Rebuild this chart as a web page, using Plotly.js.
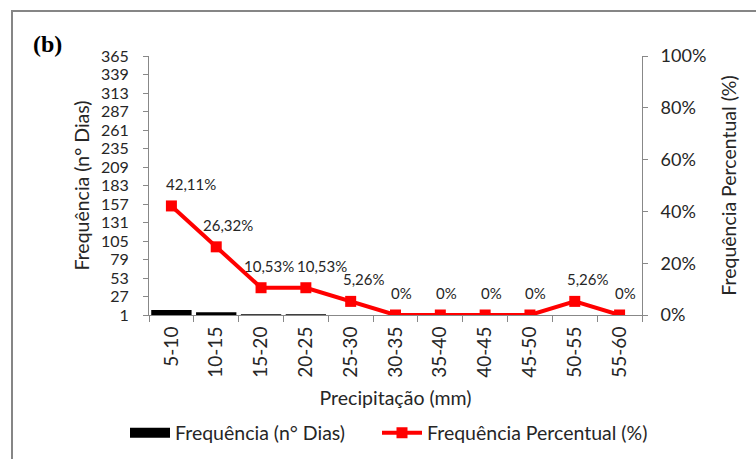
<!DOCTYPE html>
<html>
<head>
<meta charset="utf-8">
<script src="https://cdn.plot.ly/plotly-3.0.1.min.js"></script>
<style>html,body{margin:0;padding:0;background:#fff;}#chart{width:756px;height:459px;}</style>
</head>
<body>
<div id="chart"></div>
<script>
const categories = ["5-10","10-15","15-20","20-25","25-30","30-35","35-40","40-45","45-50","50-55","55-60"];
const frequencyDays = [8, 5, 2, 2, 1, 0, 0, 0, 0, 1, 0];
const percentValues = [0.4211, 0.2632, 0.1053, 0.1053, 0.0526, 0, 0, 0, 0, 0.0526, 0];
const percentLabels = ["42,11%","26,32%","10,53%","10,53%","5,26%","0%","0%","0%","0%","5,26%","0%"];
const leftTicks = [1,27,53,79,105,131,157,183,209,235,261,287,313,339,365];
const rightTicks = [0,0.2,0.4,0.6,0.8,1];
const rightTickText = ["0%","20%","40%","60%","80%","100%"];
const labelShifts = [20, 12, 8, 16, 13, 6, 6, 6, 6, 13, 6];

const FONT = "Lato, Open Sans, sans-serif";
const TXT = "#262626";

const traces = [
  {
    type: "bar", name: "Frequência (n° Dias)", x: categories, y: frequencyDays,
    marker: {color: "#000000"}, yaxis: "y", hoverinfo: "skip", showlegend: false
  },
  {
    type: "scatter", mode: "lines", name: "Frequência (n° Dias)",
    x: [categories[0]], y: [null], yaxis: "y", legend: "legend",
    line: {color: "#000000", width: 11}, showlegend: true, hoverinfo: "skip"
  },
  {
    type: "scatter", mode: "lines+markers", name: "Frequência Percentual (%)",
    x: categories, y: percentValues, yaxis: "y2", legend: "legend2",
    line: {color: "#FF0000", width: 4},
    marker: {color: "#FF0000", symbol: "square", size: 11},
    hoverinfo: "skip"
  }
];

const annotations = categories.map((c, i) => ({
  x: c, y: percentValues[i], xref: "x", yref: "y2",
  text: percentLabels[i], showarrow: false,
  xshift: labelShifts[i], yshift: 22,
  font: {family: FONT, size: 15, color: TXT}
}));
annotations.push({
  xref: "paper", yref: "paper", x: -0.24, y: 1.045, xanchor: "left", yanchor: "middle",
  text: "<b>(b)</b>", showarrow: false,
  font: {family: "Liberation Serif, DejaVu Serif, serif", size: 24, color: "#000"}
});

const legendBase = {
  orientation: "h", xref: "container", yref: "container", xanchor: "left", yanchor: "middle",
  y: 1 - 433 / 459, font: {family: FONT, size: 19.5, color: TXT}, itemwidth: 40,
  bgcolor: "rgba(0,0,0,0)"
};

const layout = {
  width: 756, height: 459,
  margin: {l: 149, r: 114, t: 56, b: 144, autoexpand: false},
  paper_bgcolor: "#fff", plot_bgcolor: "#fff",
  font: {family: FONT, color: TXT, size: 16},
  bargap: 0.1,
  showlegend: true,
  legend: Object.assign({}, legendBase, {x: 125 / 756}),
  legend2: Object.assign({}, legendBase, {x: 377 / 756}),
  xaxis: {
    type: "category", range: [-0.5, 10.5], tickangle: -90, ticks: "outside",
    tickson: "boundaries", ticklen: 6, ticklabelstandoff: 3,
    tickcolor: "#888", showline: true, linecolor: "#888", linewidth: 1, automargin: false,
    tickfont: {family: FONT, size: 19, color: TXT},
    title: {text: "Precipitação (mm)", font: {family: FONT, size: 19.5, color: TXT}, standoff: 14},
    showgrid: false, fixedrange: true
  },
  yaxis: {
    range: [1, 365], tickvals: leftTicks, ticktext: leftTicks.map(String), automargin: false,
    ticks: "outside", ticklen: 5, tickcolor: "#888", showline: true, linecolor: "#888",
    ticklabelstandoff: 11,
    showgrid: false, zeroline: false,
    tickfont: {family: FONT, size: 16, color: TXT},
    title: {text: "Frequência (n° Dias)", font: {family: FONT, size: 19.5, color: TXT}, standoff: 6}
  },
  yaxis2: {
    overlaying: "y", side: "right", range: [0, 1], automargin: false,
    tickvals: rightTicks, ticktext: rightTickText,
    ticks: "outside", ticklen: 5, tickcolor: "#888", showline: true, linecolor: "#888",
    ticklabelstandoff: 9,
    showgrid: false, zeroline: false,
    tickfont: {family: FONT, size: 18, color: TXT},
    title: {text: "Frequência Percentual (%)", font: {family: FONT, size: 19.5, color: TXT}, standoff: 17}
  },
  shapes: [{
    type: "rect", xref: "paper", yref: "paper",
    x0: (12 - 149) / 493, x1: (770 - 149) / 493,
    y0: (315 - 470) / 259, y1: (315 - 11) / 259,
    line: {color: "#868686", width: 2}, fillcolor: "rgba(0,0,0,0)", layer: "below"
  }],
  annotations: annotations
};

Plotly.newPlot("chart", traces, layout, {displayModeBar: false, staticPlot: true});
</script>
</body>
</html>
